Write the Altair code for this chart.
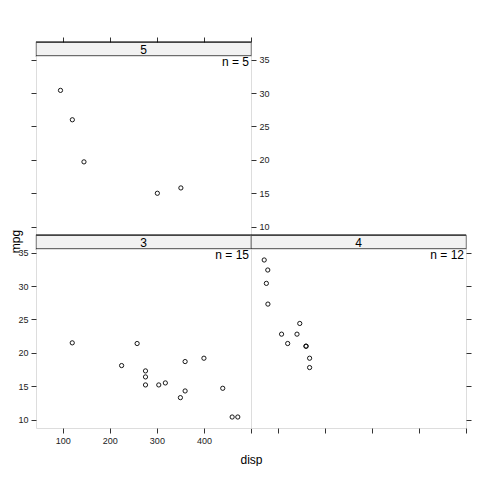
import altair as alt
import pandas as pd

# mtcars: mpg vs disp, conditioned on gear
gear3_disp = [258, 360, 225, 360, 275.8, 275.8, 275.8, 472, 460, 440, 120.1, 318, 304, 350, 400]
gear3_mpg = [21.4, 18.7, 18.1, 14.3, 16.4, 17.3, 15.2, 10.4, 10.4, 14.7, 21.5, 15.5, 15.2, 13.3, 19.2]
gear4_disp = [160, 160, 108, 146.7, 140.8, 167.6, 167.6, 78.7, 75.7, 71.1, 79, 121]
gear4_mpg = [21, 21, 22.8, 24.4, 22.8, 19.2, 17.8, 32.4, 30.4, 33.9, 27.3, 21.4]
gear5_disp = [120.3, 95.1, 351, 145, 301]
gear5_mpg = [26, 30.4, 15.8, 19.7, 15]
x_ticks = [100, 200, 300, 400, 500]
y_ticks = [10, 15, 20, 25, 30, 35]
x_domain = [43.04, 500.06]
y_domain = [8.755, 35.545]

FONT = "Liberation Sans"
W, H, S = 215, 179, 14
XS = alt.Scale(domain=x_domain, nice=False, zero=False)
YS = alt.Scale(domain=y_domain, nice=False, zero=False)


def ax(orient, values, labels=True, **kw):
    return alt.Axis(orient=orient, values=values, labels=labels, domain=False, grid=False,
                    ticks=True, tickSize=5, tickColor="#333", tickWidth=1,
                    labelFont=FONT, labelFontSize=9, labelColor="#222", labelPadding=3,
                    **kw)


def strip(label, top_axis=False):
    lab = alt.Chart(pd.DataFrame({"lab": [label]}))
    layers = [
        lab.mark_rule(color="black", strokeWidth=1).encode(x=alt.value(0), x2=alt.value(W), y=alt.value(0)),
        lab.mark_rule(color="black", strokeWidth=1).encode(x=alt.value(0), x2=alt.value(W), y=alt.value(S)),
        lab.mark_text(font=FONT, fontSize=12, color="black", baseline="middle").encode(
            x=alt.value(W / 2), y=alt.value(S / 2 + 0.5), text="lab:N"),
    ]
    if top_axis:
        layers.append(
            alt.Chart(pd.DataFrame({"v": x_domain})).mark_point(opacity=0).encode(
                x=alt.X("v:Q", scale=XS, axis=ax("top", x_ticks, labels=False, title=None)))
        )
    return alt.layer(*layers).properties(
        width=W, height=S, view=alt.ViewBackground(fill="#f2f2f2", stroke="#888", strokeWidth=1.2))


def blank(h):
    return alt.Chart(pd.DataFrame({"a": [0]})).mark_point(opacity=0).encode(
        x=alt.value(0), y=alt.value(0)).properties(
        width=W, height=h, view=alt.ViewBackground(stroke="transparent", fill="transparent"))


def panel(disp, mpg, xaxis, yaxis, yaxis2=None):
    df = pd.DataFrame({"disp": disp, "mpg": mpg})
    pts = alt.Chart(df).mark_point(shape="circle", filled=False, size=18, color="black",
                                   strokeWidth=0.9, opacity=1).encode(
        x=alt.X("disp:Q", scale=XS, axis=xaxis),
        y=alt.Y("mpg:Q", scale=YS, axis=yaxis),
    )
    ntxt = alt.Chart(pd.DataFrame({"t": [f"n = {len(disp)}"]})).mark_text(
        align="right", baseline="top", font=FONT, fontSize=12, color="black").encode(
        x=alt.value(W - 2), y=alt.value(1), text="t:N")
    layers = [pts, ntxt]
    if yaxis2 is not None:
        layers.append(alt.Chart(df).mark_point(opacity=0).encode(
            x=alt.X("disp:Q", scale=XS, axis=None),
            y=alt.Y("mpg:Q", scale=YS, axis=yaxis2)))
    return alt.layer(*layers).resolve_axis(y="independent").properties(width=W, height=H)


p5 = panel(gear5_disp, gear5_mpg, None,
           ax("right", y_ticks, title=None),
           ax("left", y_ticks, labels=False, title=None))
p3 = panel(gear3_disp, gear3_mpg,
           ax("bottom", x_ticks, labelExpr="datum.value == 500 ? '' : datum.label",
              title="disp", titleFont=FONT, titleFontSize=12, titleFontWeight="normal",
              titleX=W, titleY=26, titleBaseline="top", titleColor="black"),
           ax("left", y_ticks, title="mpg", titleFont=FONT, titleFontSize=12,
              titleFontWeight="normal", titleX=-14, titleY=-8, titleColor="black"))
p4 = panel(gear4_disp, gear4_mpg,
           ax("bottom", x_ticks, labels=False, title=None),
           ax("right", y_ticks, labels=False, title=None))

chart = alt.concat(
    strip("5", top_axis=True), blank(S),
    p5, blank(H),
    strip("3"), strip("4"),
    p3, p4,
    columns=2, spacing=0, bounds="flush",
).properties(
    padding={"left": 0, "top": 27, "right": 0, "bottom": 0}
).configure_view(stroke="#888", strokeWidth=1.2).configure(background="white")

chart.save("out.html", embed_options={"renderer": "svg", "actions": False})
